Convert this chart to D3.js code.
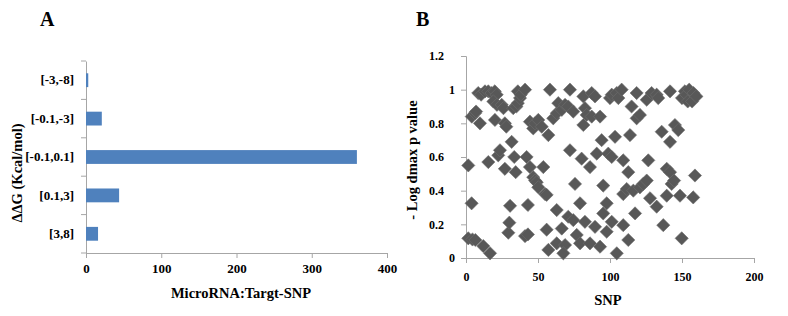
<!DOCTYPE html>
<html>
<head>
<meta charset="utf-8">
<script src="https://cdn.jsdelivr.net/npm/d3@7"></script>
<style>
  body { margin: 0; background: #fff; }
  svg text { font-family: "Liberation Serif", "Times New Roman", serif; font-weight: bold; fill: #000; }
  .axis path, .axis line { stroke: #a6a6a6; }
</style>
</head>
<body>
<div class="chart"></div>
<script>
// panel A: bars
const dgCategories = ["[-3,-8]", "[-0.1,-3]", "[-0.1,0.1]", "[0.1,3]", "[3,8]"];
const dgCounts = [3, 21, 360, 44, 16];
const barTicks = [0, 100, 200, 300, 400];

// panel B: scatter (SNP index, -log dmax p value)
const snpX = [1.6, 1.6, 3.9, 4, 6.25, 7, 9.7, 4.5, 6.5,
  8.5, 10.5, 13.2, 15.5, 17.8, 20, 21.3, 19, 21.5, 24.8, 26,
  12, 16.7, 15.5, 20.1, 22.4, 23.6, 27, 28, 27, 29.4, 30.1, 30.6,
  31.7, 32.8, 34.5, 33.5, 35, 36, 37.5, 36, 38, 41, 42.1, 43, 41, 43, 44.4, 44.4,
  46.7, 47.9, 50.2, 52.6, 46.7, 48, 49.1, 50.2, 54.9, 53.7, 56, 56, 57.2, 57.2, 58.3,
  60.6, 63, 64.1, 66.5, 68.8, 71, 72.2, 72.2, 63, 71, 66.5, 63, 68.8, 67.6,
  74.5, 75.7, 74.5, 76.9, 79.2, 79.2, 80.3, 81.5, 81.5, 82.6, 83.8, 82.6, 86.1, 86.1,
  87.3, 87.3, 89.6, 89.6,
  90.8, 93.1, 93.1, 94.2, 95.3, 95.3, 97.7, 97.7, 98.8, 100, 101.2, 101.2, 101.2,
  103.5, 104.7, 104.7, 105.8, 108.1, 109.2, 109.2, 109.2, 111.6, 112.7, 112.7, 113.9,
  115, 116.2, 117.4, 118.5, 118.5, 120.8, 120.8,
  123.1, 125.5, 125.5, 126.6, 127.8, 128.9, 132.4, 133.5, 132.4, 135.9, 137, 139.4, 139.4,
  141.7, 141.7, 141.7, 142.8, 144.5, 145.1, 147.4, 148.6, 149.8, 150, 152, 153, 154, 155,
  157, 158, 160, 159, 157.8];
const snpY = [0.55, 0.117, 0.325, 0.84, 0.86, 0.87, 0.80, 0.11, 0.107,
  0.98, 0.97, 0.99, 0.99, 0.98, 0.99, 0.97, 0.93, 0.91, 0.91, 0.89,
  0.071, 0.028, 0.57, 0.82, 0.61, 0.64, 0.80, 0.78, 0.53, 0.15, 0.21, 0.31,
  0.69, 0.89, 0.51, 0.60, 0.90, 0.92, 0.95, 0.99, 0.97, 1.0, 0.60, 0.315, 0.13, 0.14, 0.54, 0.81,
  0.77, 0.80, 0.82, 0.78, 0.48, 0.46, 0.45, 0.42, 0.38, 0.54, 0.375, 0.168, 0.73, 0.048, 1.0,
  0.83, 0.86, 0.92, 0.88, 0.91, 0.90, 1.0, 0.64, 0.285, 0.245, 0.175, 0.087, 0.077, 0.028,
  0.87, 0.44, 0.225, 0.137, 0.325, 0.087, 0.59, 0.79, 0.96, 0.89, 0.85, 0.215, 0.54, 0.087,
  0.98, 0.84, 0.96, 0.185,
  0.62, 0.84, 0.067, 0.70, 0.43, 0.265, 0.325, 0.156, 0.62, 0.95, 0.97, 0.60, 0.215,
  0.72, 0.98, 0.028, 0.95, 1.0, 0.58, 0.38, 0.195, 0.41, 0.51, 0.107, 0.73,
  0.90, 0.40, 0.265, 0.98, 0.83, 0.85, 0.42,
  0.44, 0.46, 0.94, 0.58, 0.355, 0.98, 0.97, 0.95, 0.305, 0.75, 0.195, 0.53, 0.37,
  0.51, 0.69, 0.99, 0.44, 0.46, 0.79, 0.76, 0.37, 0.117, 0.95, 0.99, 0.97, 0.93, 1.0,
  0.93, 0.98, 0.96, 0.49, 0.36];
const snpTicks = [0, 50, 100, 150, 200];
const pTicks = [0, 0.2, 0.4, 0.6, 0.8, 1, 1.2];

const svg = d3.select(".chart").append("svg")
  .attr("width", 788)
  .attr("height", 316);

// ---------- panel A ----------
const a = {left: 86, right: 387, top: 61, bottom: 253};

const xA = d3.scaleLinear().domain([0, 400]).range([a.left, a.right]);
const yA = d3.scaleBand()
  .domain(dgCategories)
  .range([a.top, a.bottom])
  .paddingInner(0.64)
  .paddingOuter(0.32);

svg.append("g")
  .attr("class", "axis")
  .attr("transform", `translate(0, ${a.bottom})`)
  .call(d3.axisBottom(xA).tickValues(barTicks).tickSize(5).tickPadding(6))
  .call(g => g.selectAll("text").style("font-size", "13px"));

const yAxisA = svg.append("g")
  .attr("class", "axis")
  .attr("transform", `translate(${a.left}, 0)`)
  .call(d3.axisLeft(yA).tickSize(0).tickPadding(12))
  .call(g => g.selectAll("text").style("font-size", "13px"));

// ticks sit between categories
const step = yA.step();
yAxisA.selectAll(".sep")
  .data(d3.range(dgCategories.length + 1))
  .enter().append("line")
  .attr("class", "sep")
  .attr("x1", -5).attr("x2", 0)
  .attr("y1", i => a.top + i * step)
  .attr("y2", i => a.top + i * step);

svg.selectAll(".bar")
  .data(dgCategories)
  .enter().append("rect")
  .attr("class", "bar")
  .attr("x", xA(0))
  .attr("y", d => yA(d))
  .attr("width", (d, i) => xA(dgCounts[i]) - xA(0))
  .attr("height", yA.bandwidth())
  .attr("fill", "#4f81bd");

svg.append("text")
  .attr("x", 40).attr("y", 26)
  .style("font-size", "20px")
  .text("A");

svg.append("text")
  .attr("x", 241).attr("y", 298)
  .attr("text-anchor", "middle")
  .style("font-size", "14.5px")
  .text("MicroRNA:Targt-SNP");

svg.append("text")
  .attr("transform", "translate(22, 173) rotate(-90)")
  .attr("text-anchor", "middle")
  .style("font-size", "14.5px")
  .text("ΔΔG (Kcal/mol)");

// ---------- panel B ----------
const b = {left: 466, right: 754, top: 56, bottom: 258};

const xB = d3.scaleLinear().domain([0, 200]).range([b.left, b.right]);
const yB = d3.scaleLinear().domain([0, 1.2]).range([b.bottom, b.top]);

svg.append("g")
  .attr("class", "axis")
  .attr("transform", `translate(0, ${b.bottom})`)
  .call(d3.axisBottom(xB).tickValues(snpTicks).tickSize(5).tickPadding(9))
  .call(g => g.selectAll("text").style("font-size", "12px"));

// integer labels sit further right than the decimal ones, as in the original
svg.append("g")
  .attr("class", "axis")
  .attr("transform", `translate(${b.left}, 0)`)
  .call(d3.axisLeft(yB).tickValues(pTicks).tickSize(5).tickPadding(17)
    .tickFormat(d => String(+d.toFixed(1))))
  .call(g => g.selectAll("text")
    .style("font-size", "12px")
    .attr("x", d => Number.isInteger(d) ? -11 : -22));

const s = 6.6;
const diamond = `M0,${-s}L${s},0L0,${s}L${-s},0Z`;

svg.selectAll(".pt")
  .data(snpX)
  .enter().append("path")
  .attr("class", "pt")
  .attr("d", diamond)
  .attr("transform", (d, i) => `translate(${xB(d)}, ${yB(snpY[i])})`)
  .attr("fill", "#585858")
  .attr("stroke", "#6e6e6e")
  .attr("stroke-width", 0.6);

svg.append("text")
  .attr("x", 416).attr("y", 26)
  .style("font-size", "20px")
  .text("B");

svg.append("text")
  .attr("x", 608).attr("y", 305)
  .attr("text-anchor", "middle")
  .style("font-size", "14.5px")
  .text("SNP");

svg.append("text")
  .attr("transform", "translate(417, 160) rotate(-90)")
  .attr("text-anchor", "middle")
  .style("font-size", "14.5px")
  .text("- Log dmax p value");
</script>
</body>
</html>
